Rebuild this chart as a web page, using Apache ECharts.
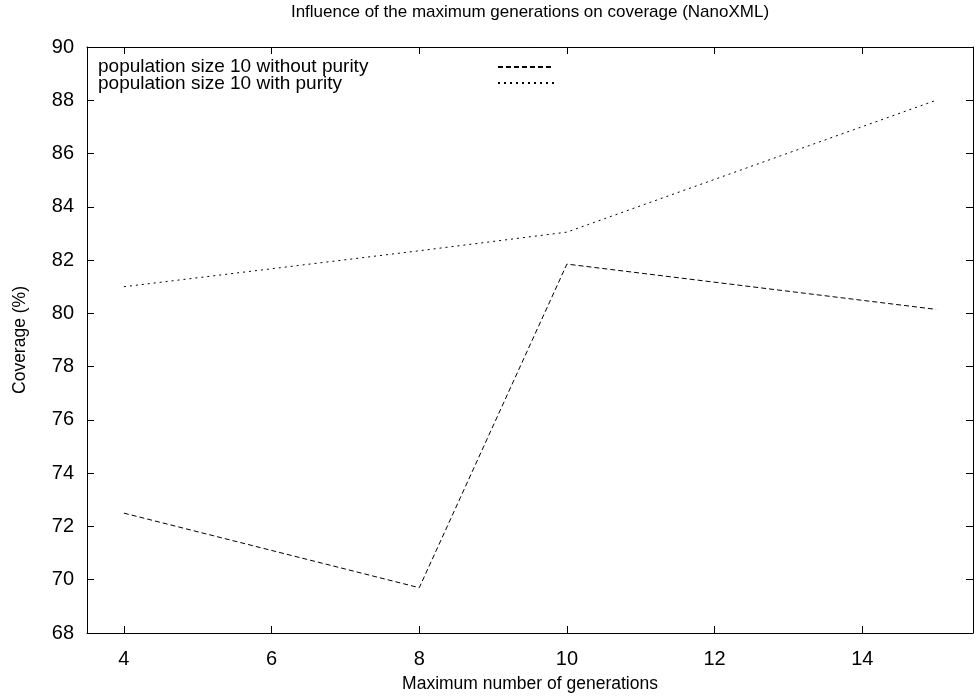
<!DOCTYPE html>
<html>
<head>
<meta charset="utf-8">
<script src="https://cdn.jsdelivr.net/npm/echarts@6/dist/echarts.min.js"></script>
<style>
  html, body { margin: 0; padding: 0; background: #fff; }
  #chart { width: 980px; height: 698px; }
</style>
</head>
<body>
<div id="chart"></div>
<script>
const generations = [4, 8, 10, 15];
const withoutPurity = [72.5, 69.7, 81.85, 80.15];
const withPurity = [81.0, 82.35, 83.05, 88.0];
const seriesNames = ["population size 10 without purity", "population size 10 with purity"];

const font = "Liberation Sans, Arial, Helvetica, sans-serif";
const chart = echarts.init(document.getElementById("chart"));

const pairs = (xs, ys) => xs.map((x, i) => [x, ys[i]]);

const axisLine = { show: true, lineStyle: { color: "#000", width: 1 } };
const tick = { show: true, inside: true, length: 7, lineStyle: { color: "#000" } };

const option = {
  backgroundColor: "#fff",
  animation: false,
  title: [
    {
      text: "Influence of the maximum generations on coverage (NanoXML)",
      left: 530,
      top: 4,
      padding: 0,
      textAlign: "center",
      textStyle: { fontFamily: font, fontSize: 17, fontWeight: "normal", color: "#000" },
    },
    {
      // key labels (gnuplot puts the text left of the line sample)
      text: seriesNames.join("\n"),
      left: 98,
      top: 58,
      padding: 0,
      textStyle: { fontFamily: font, fontSize: 19, lineHeight: 17.5, fontWeight: "normal", color: "#000" },
    },
  ],
  legend: {
    orient: "vertical",
    left: 497,
    top: 60,
    padding: 0,
    itemWidth: 56,
    itemHeight: 14,
    itemGap: 3.5,
    itemStyle: { opacity: 0 },
    formatter: () => "",
    data: seriesNames,
  },
  grid: { left: 87, right: 7, top: 47, bottom: 63 },
  xAxis: [
    {
      type: "value",
      min: 3.5,
      max: 15.5,
      splitNumber: 6,
      name: "Maximum number of generations",
      nameLocation: "middle",
      nameGap: 42,
      nameTextStyle: { fontFamily: font, fontSize: 17.5, color: "#000" },
      axisLine,
      axisTick: tick,
      axisLabel: { showMinLabel: false, showMaxLabel: false, fontFamily: font, fontSize: 20, color: "#000", margin: 16 },
      splitLine: { show: false },
    },
    {
      type: "value",
      position: "top",
      min: 3.5,
      max: 15.5,
      splitNumber: 6,
      axisLine,
      axisTick: tick,
      axisLabel: { show: false },
      splitLine: { show: false },
    },
  ],
  yAxis: [
    {
      type: "value",
      min: 68,
      max: 90,
      interval: 2,
      name: "Coverage (%)",
      nameLocation: "middle",
      nameGap: 58,
      nameTextStyle: { fontFamily: font, fontSize: 17.5, color: "#000" },
      axisLine,
      axisTick: tick,
      axisLabel: { fontFamily: font, fontSize: 20, color: "#000", margin: 13 },
      splitLine: { show: false },
    },
    {
      type: "value",
      position: "right",
      min: 68,
      max: 90,
      interval: 2,
      axisLine,
      axisTick: tick,
      axisLabel: { show: false },
      splitLine: { show: false },
    },
  ],
  series: [
    {
      name: seriesNames[0],
      type: "line",
      data: pairs(generations, withoutPurity),
      symbol: "none",
      lineStyle: { color: "#000", width: 1, type: [5, 3] },
      itemStyle: { color: "#000" },
    },
    {
      name: seriesNames[1],
      type: "line",
      data: pairs(generations, withPurity),
      symbol: "none",
      lineStyle: { color: "#000", width: 1, type: [2, 4] },
      itemStyle: { color: "#000" },
    },
  ],
};

chart.setOption(option);
</script>
</body>
</html>
